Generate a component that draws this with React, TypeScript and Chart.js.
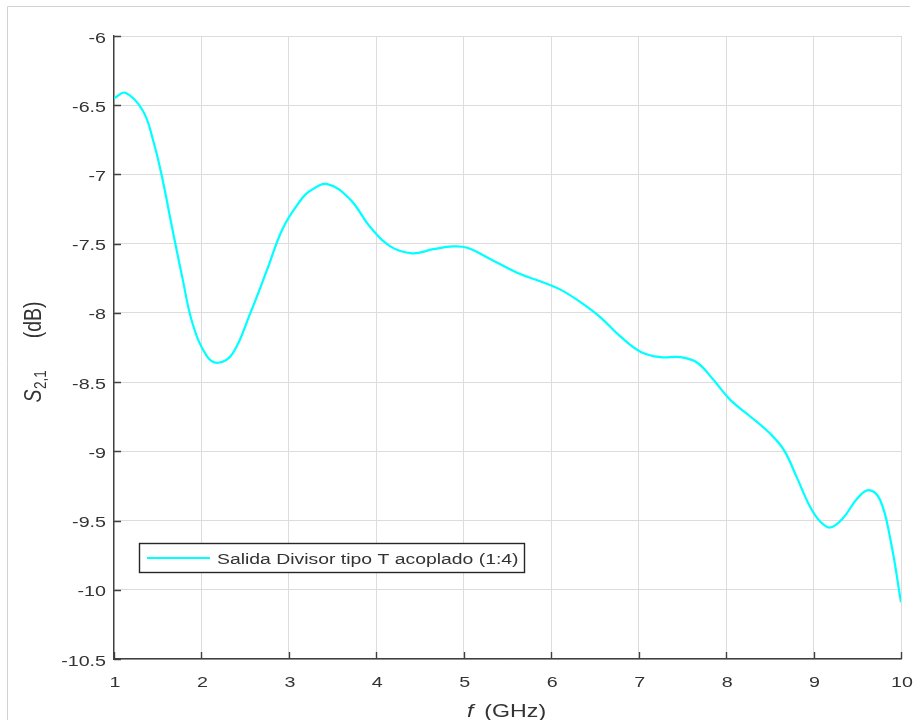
import React, { useEffect, useRef } from "react";
import { Chart, registerables } from "chart.js";

Chart.register(...registerables);

// ---- data ----
const freqGHz = [
  1.0, 1.13, 1.33, 1.45, 1.55, 1.66, 1.78, 1.9, 2.06, 2.19, 2.36, 2.56, 2.75, 2.93,
  3.13, 3.24, 3.44, 3.7, 3.93, 4.16, 4.41, 4.65, 4.88, 5.04, 5.3, 5.61, 5.91, 6.1,
  6.33, 6.56, 6.79, 7.02, 7.25, 7.48, 7.67, 7.85, 8.05, 8.28, 8.5, 8.66, 8.81, 8.96,
  9.08, 9.19, 9.34, 9.5, 9.63, 9.76, 9.88, 10.0,
];
const s21dB = [
  -6.45, -6.41, -6.54, -6.76, -7.02, -7.37, -7.74, -8.08, -8.31, -8.36, -8.29, -8.0, -7.69, -7.39,
  -7.19, -7.12, -7.07, -7.18, -7.38, -7.52, -7.57, -7.54, -7.52, -7.53, -7.61, -7.71, -7.78, -7.83,
  -7.92, -8.03, -8.17, -8.28, -8.32, -8.32, -8.36, -8.48, -8.63, -8.75, -8.87, -8.99, -9.19, -9.4,
  -9.51, -9.55, -9.48, -9.34, -9.28, -9.35, -9.64, -10.09,
];
const xTickValues = [1, 2, 3, 4, 5, 6, 7, 8, 9, 10];
const yTickValues = [-10.5, -10, -9.5, -9, -8.5, -8, -7.5, -7, -6.5, -6];
const seriesLabel = "Salida Divisor tipo T acoplado (1:4)";
const xTitleVar = "f";
const xTitleUnit = "(GHz)";
const yTitleVar = "S";
const yTitleSub = "2,1";
const yTitleUnit = "(dB)";

// ---- styles ----
const LINE_COLOR = "rgb(0,255,255)";
const AXIS_COLOR = "#404040";
const TEXT_COLOR = "#333333";
const GRID_COLOR = "#dcdcdc";
const FAMILY = "'Liberation Sans', Arial, Helvetica, sans-serif";
const SX = 1.27; // horizontal stretch of the reference text

function fmt(v: number) {
  return String(Number(v.toFixed(2)));
}

function stretchedText(
  ctx: CanvasRenderingContext2D,
  text: string,
  x: number,
  y: number,
  align: CanvasTextAlign,
  font: string,
  sx: number
) {
  ctx.save();
  ctx.font = font;
  ctx.textAlign = align;
  ctx.textBaseline = "alphabetic";
  ctx.translate(x, y);
  ctx.scale(sx, 1);
  ctx.fillText(text, 0, 0);
  ctx.restore();
}

const decorPlugin = {
  id: "matlabDecor",
  beforeDraw(chart: any) {
    const ctx: CanvasRenderingContext2D = chart.ctx;
    ctx.save();
    ctx.strokeStyle = "#d2d2d2";
    ctx.lineWidth = 1;
    ctx.beginPath();
    ctx.moveTo(7.5, 720);
    ctx.lineTo(7.5, 6.5);
    ctx.lineTo(910, 6.5);
    ctx.stroke();
    ctx.restore();
  },
  afterDraw(chart: any) {
    const ctx: CanvasRenderingContext2D = chart.ctx;
    const { left, right, top, bottom } = chart.chartArea;
    const xs = chart.scales.x;
    const ys = chart.scales.y;

    // inward tick marks
    ctx.save();
    ctx.strokeStyle = AXIS_COLOR;
    ctx.lineWidth = 1.4;
    ctx.beginPath();
    xs.ticks.forEach((t: any) => {
      const px = Math.round(xs.getPixelForValue(t.value)) + 0.5;
      ctx.moveTo(px, bottom);
      ctx.lineTo(px, bottom - 7);
    });
    ys.ticks.forEach((t: any) => {
      const py = Math.round(ys.getPixelForValue(t.value)) + 0.5;
      ctx.moveTo(left, py);
      ctx.lineTo(left + 7, py);
    });
    ctx.stroke();
    ctx.restore();

    // tick labels
    ctx.save();
    ctx.fillStyle = TEXT_COLOR;
    const tickFont = `15.5px ${FAMILY}`;
    xs.ticks.forEach((t: any) => {
      const px = xs.getPixelForValue(t.value);
      stretchedText(ctx, fmt(t.value), px + 1, bottom + 28, "center", tickFont, SX);
    });
    ys.ticks.forEach((t: any) => {
      const py = ys.getPixelForValue(t.value);
      stretchedText(ctx, fmt(t.value), left - 8, py + 6.5, "right", tickFont, SX);
    });

    // x title
    const xFontI = `italic 19px ${FAMILY}`;
    const xFont = `19px ${FAMILY}`;
    ctx.font = xFontI;
    const wf = ctx.measureText(xTitleVar).width * 1.22;
    ctx.font = xFont;
    const wu = ctx.measureText(xTitleUnit).width * 1.22;
    const gap = 11;
    const total = wf + gap + wu;
    const cx = (left + right) / 2 - 1;
    const x0 = cx - total / 2;
    const base = 717;
    stretchedText(ctx, xTitleVar, x0, base, "left", xFontI, 1.22);
    stretchedText(ctx, xTitleUnit, x0 + wf + gap, base, "left", xFont, 1.22);

    // y title (rotated)
    ctx.save();
    ctx.translate(41, (top + bottom) / 2 + 4);
    ctx.rotate(-Math.PI / 2);
    ctx.scale(1, 1.25);
    ctx.textBaseline = "alphabetic";
    ctx.textAlign = "left";
    const yFontI = `italic 19.5px ${FAMILY}`;
    const yFont = `19.5px ${FAMILY}`;
    const ySub = `13.5px ${FAMILY}`;
    const startX = -51;
    ctx.font = yFontI;
    ctx.fillText(yTitleVar, startX, 0);
    const ws = ctx.measureText(yTitleVar).width;
    ctx.font = ySub;
    ctx.fillText(yTitleSub, startX + ws + 0.5, 4);
    ctx.font = yFont;
    ctx.textAlign = "right";
    ctx.fillText(yTitleUnit, startX + 101, 0);
    ctx.restore();

    // legend
    const bx = 139.5, by = 543.5, bw = 385, bh = 29;
    ctx.fillStyle = "#ffffff";
    ctx.fillRect(bx, by, bw, bh);
    ctx.strokeStyle = "#262626";
    ctx.lineWidth = 1.4;
    ctx.strokeRect(bx, by, bw, bh);
    const ds = chart.data.datasets[0];
    ctx.strokeStyle = ds.borderColor;
    ctx.lineWidth = 2.2;
    ctx.beginPath();
    ctx.moveTo(147, 558);
    ctx.lineTo(210, 558);
    ctx.stroke();
    ctx.fillStyle = TEXT_COLOR;
    stretchedText(ctx, ds.label, 217, 564, "left", `15.5px ${FAMILY}`, 1.25);
    ctx.restore();
  },
};

export default function App() {
  const ref = useRef<HTMLCanvasElement | null>(null);

  useEffect(() => {
    if (!ref.current) return;
    const chart = new Chart(ref.current, {
      type: "line",
      data: {
        datasets: [
          {
            label: seriesLabel,
            data: freqGHz.map((f, i) => ({ x: f, y: s21dB[i] })),
            borderColor: LINE_COLOR,
            backgroundColor: LINE_COLOR,
            borderWidth: 2.2,
            pointRadius: 0,
            tension: 0.4,
            fill: false,
          },
        ],
      },
      options: {
        responsive: false,
        animation: false,
        devicePixelRatio: 1,
        layout: { padding: { left: 0, right: 13, top: 36, bottom: 0 } },
        plugins: {
          legend: { display: false },
          tooltip: { enabled: false },
          title: { display: false },
        },
        scales: {
          x: {
            type: "linear",
            min: 1,
            max: 10,
            afterBuildTicks: (s: any) => {
              s.ticks = xTickValues.map((v) => ({ value: v }));
            },
            afterFit: (s: any) => {
              s.height = 61;
            },
            ticks: { display: false },
            grid: { color: GRID_COLOR, lineWidth: 1, drawTicks: false },
            border: { display: true, color: AXIS_COLOR, width: 1.4 },
            title: { display: false },
          },
          y: {
            type: "linear",
            min: -10.5,
            max: -6,
            afterBuildTicks: (s: any) => {
              s.ticks = yTickValues.map((v) => ({ value: v }));
            },
            afterFit: (s: any) => {
              s.width = 114;
            },
            ticks: { display: false },
            grid: { color: GRID_COLOR, lineWidth: 1, drawTicks: false },
            border: { display: true, color: AXIS_COLOR, width: 1.4 },
            title: { display: false },
          },
        },
      } as any,
      plugins: [decorPlugin],
    });
    return () => chart.destroy();
  }, []);

  return (
    <canvas
      ref={ref}
      width={914}
      height={720}
      style={{ position: "absolute", left: 0, top: 0, display: "block", background: "#ffffff" }}
    />
  );
}
